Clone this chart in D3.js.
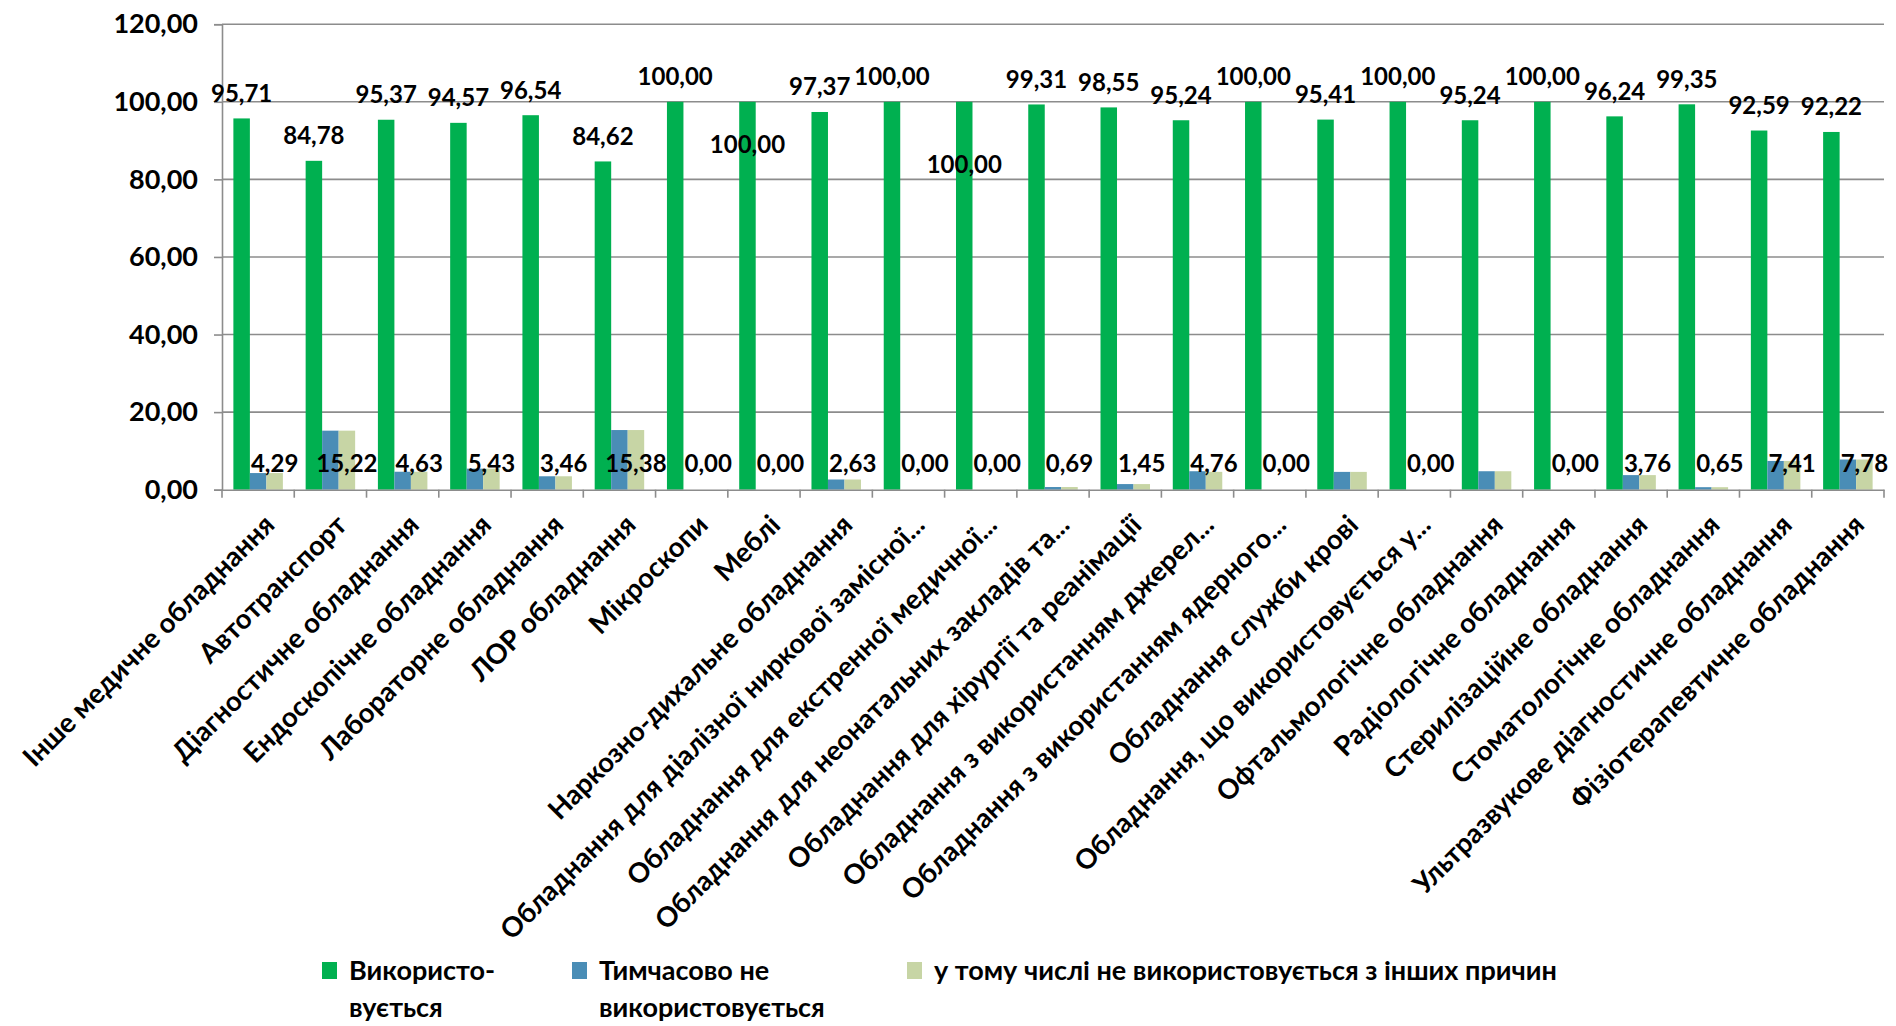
<!DOCTYPE html>
<html>
<head>
<meta charset="utf-8">
<script src="https://cdn.jsdelivr.net/npm/d3@7"></script>
<style>
  html, body { margin: 0; padding: 0; background: #ffffff; }
  svg { display: block; }
  text { font-family: Lato, "Open Sans", sans-serif; font-weight: bold; fill: #000; }
</style>
</head>
<body>
<svg id="chart" width="1896" height="1026"></svg>
<script>
const categories = [
  "Інше медичне обладнання",
  "Автотранспорт",
  "Діагностичне обладнання",
  "Ендоскопічне обладнання",
  "Лабораторне обладнання",
  "ЛОР обладнання",
  "Мікроскопи",
  "Меблі",
  "Наркозно-дихальне обладнання",
  "Обладнання для діалізної ниркової замісної...",
  "Обладнання для екстренної медичної...",
  "Обладнання для неонатальних закладів та...",
  "Обладнання для хірургії та реанімації",
  "Обладнання з використанням джерел...",
  "Обладнання з використанням ядерного...",
  "Обладнання служби крові",
  "Обладнання, що використовується у...",
  "Офтальмологічне обладнання",
  "Радіологічне обладнання",
  "Стерилізаційне обладнання",
  "Стоматологічне обладнання",
  "Ультразвукове діагностичне обладнання",
  "Фізіотерапевтичне обладнання"
];
const seriesNames = ["Використо-|вується", "Тимчасово не|використовується", "у тому числі не використовується з інших причин"];
const used = [95.71, 84.78, 95.37, 94.57, 96.54, 84.62, 100.00, 100.00, 97.37, 100.00, 100.00, 99.31, 98.55, 95.24, 100.00, 95.41, 100.00, 95.24, 100.00, 96.24, 99.35, 92.59, 92.22];
const tempUnused = [4.29, 15.22, 4.63, 5.43, 3.46, 15.38, 0.00, 0.00, 2.63, 0.00, 0.00, 0.69, 1.45, 4.76, 0.00, 4.59, 0.00, 4.76, 0.00, 3.76, 0.65, 7.41, 7.78];
const otherReasons = [4.29, 15.22, 4.63, 5.43, 3.46, 15.38, 0.00, 0.00, 2.63, 0.00, 0.00, 0.69, 1.45, 4.60, 0.00, 4.59, 0.00, 4.76, 0.00, 3.76, 0.65, 7.41, 7.78];
// labels shown for the third series (null = no label in the original)
const otherLabels = [4.29, 15.22, 4.63, 5.43, 3.46, 15.38, 0.00, 0.00, 2.63, 0.00, 0.00, 0.69, 1.45, 4.76, 0.00, null, 0.00, null, 0.00, 3.76, 0.65, 7.41, 7.78];
const yTicks = [0, 20, 40, 60, 80, 100, 120];

const colors = ["#00B050", "#4A8DB6", "#C7D5A5"];

const svg = d3.select("#chart");
const plotLeft = 222, plotRight = 1884, plotTop = 24.2, plotBottom = 489.7;

const x = d3.scaleBand().domain(d3.range(categories.length)).range([plotLeft, plotRight]).padding(0);
const bw = 16.5;
const x1 = d3.scaleBand().domain([0, 1, 2])
  .range([x.bandwidth() / 2 - 1.5 * bw, x.bandwidth() / 2 + 1.5 * bw]).padding(0);
const y = d3.scaleLinear().domain([0, 120]).range([plotBottom, plotTop]);

const fmt = v => d3.format(".2f")(v).replace(".", ",");

// gridlines
svg.append("g").selectAll("line").data(yTicks.filter(d => d > 0)).join("line")
  .attr("x1", plotLeft).attr("x2", plotRight)
  .attr("y1", d => y(d)).attr("y2", d => y(d))
  .attr("stroke", "#8c8c8c").attr("stroke-width", 1.6);

// y axis
const yAxis = d3.axisLeft(y).tickValues(yTicks).tickFormat(fmt).tickSize(8).tickPadding(16);
const gy = svg.append("g").attr("transform", `translate(${plotLeft},0)`).call(yAxis);
gy.select(".domain").attr("stroke", "#8c8c8c").attr("stroke-width", 1.6);
gy.selectAll(".tick line").attr("stroke", "#8c8c8c").attr("stroke-width", 1.6);
gy.selectAll(".tick text").attr("font-size", 27).attr("font-family", "Lato, sans-serif").attr("font-weight", "bold").attr("fill", "#111");

// bars
const series = [used, tempUnused, otherReasons];
series.forEach((vals, s) => {
  svg.append("g").selectAll("rect").data(vals).join("rect")
    .attr("x", (d, i) => x(i) + x1(s))
    .attr("width", x1.bandwidth())
    .attr("y", d => y(d))
    .attr("height", d => y(0) - y(d))
    .attr("fill", colors[s]);
});

// x axis
const xAxis = d3.axisBottom(x).tickValues([]).tickSizeOuter(0);
const gx = svg.append("g").attr("transform", `translate(0,${plotBottom})`).call(xAxis);
gx.select(".domain").attr("stroke", "#8c8c8c").attr("stroke-width", 1.6);
svg.append("g").selectAll("line").data(d3.range(categories.length + 1)).join("line")
  .attr("x1", i => plotLeft + i * x.step()).attr("x2", i => plotLeft + i * x.step())
  .attr("y1", plotBottom).attr("y2", plotBottom + 8)
  .attr("stroke", "#8c8c8c").attr("stroke-width", 1.6);

// category labels
svg.append("g").selectAll("text").data(categories).join("text")
  .attr("transform", (d, i) => `translate(${x(i) + x.bandwidth() / 2 + 18},${plotBottom + 37}) rotate(-45)`)
  .attr("text-anchor", "end")
  .attr("font-size", 27.5)
  .text(d => d);

// data labels - used series
const greenLabelShift = {7: 68, 10: 88};
svg.append("g").selectAll("text").data(used).join("text")
  .attr("x", (d, i) => x(i) + x1(0) + x1.bandwidth() / 2)
  .attr("y", (d, i) => y(d) - 25 + (greenLabelShift[i] || 0))
  .attr("dy", "0.35em")
  .attr("text-anchor", "middle")
  .attr("font-size", 24)
  .text(d => fmt(d));

// data labels - third series, inside base
svg.append("g").selectAll("text")
  .data(otherLabels.map((v, i) => ({v, i})).filter(d => d.v !== null))
  .join("text")
  .attr("x", d => x(d.i) + x1(2) + x1.bandwidth() / 2)
  .attr("y", plotBottom - 26)
  .attr("dy", "0.35em")
  .attr("text-anchor", "middle")
  .attr("font-size", 24)
  .text(d => fmt(d.v));

// legend
const legendX = [322, 572, 907];
const lg = svg.append("g");
seriesNames.forEach((name, s) => {
  lg.append("rect").attr("x", legendX[s]).attr("y", 962).attr("width", 15).attr("height", 17).attr("fill", colors[s]);
  const t = lg.append("text").attr("x", legendX[s] + 27).attr("y", 980).attr("font-size", 27);
  name.split("|").forEach((line, k) => {
    t.append("tspan").attr("x", legendX[s] + 27).attr("dy", k === 0 ? 0 : 37).text(line);
  });
});
</script>
</body>
</html>
